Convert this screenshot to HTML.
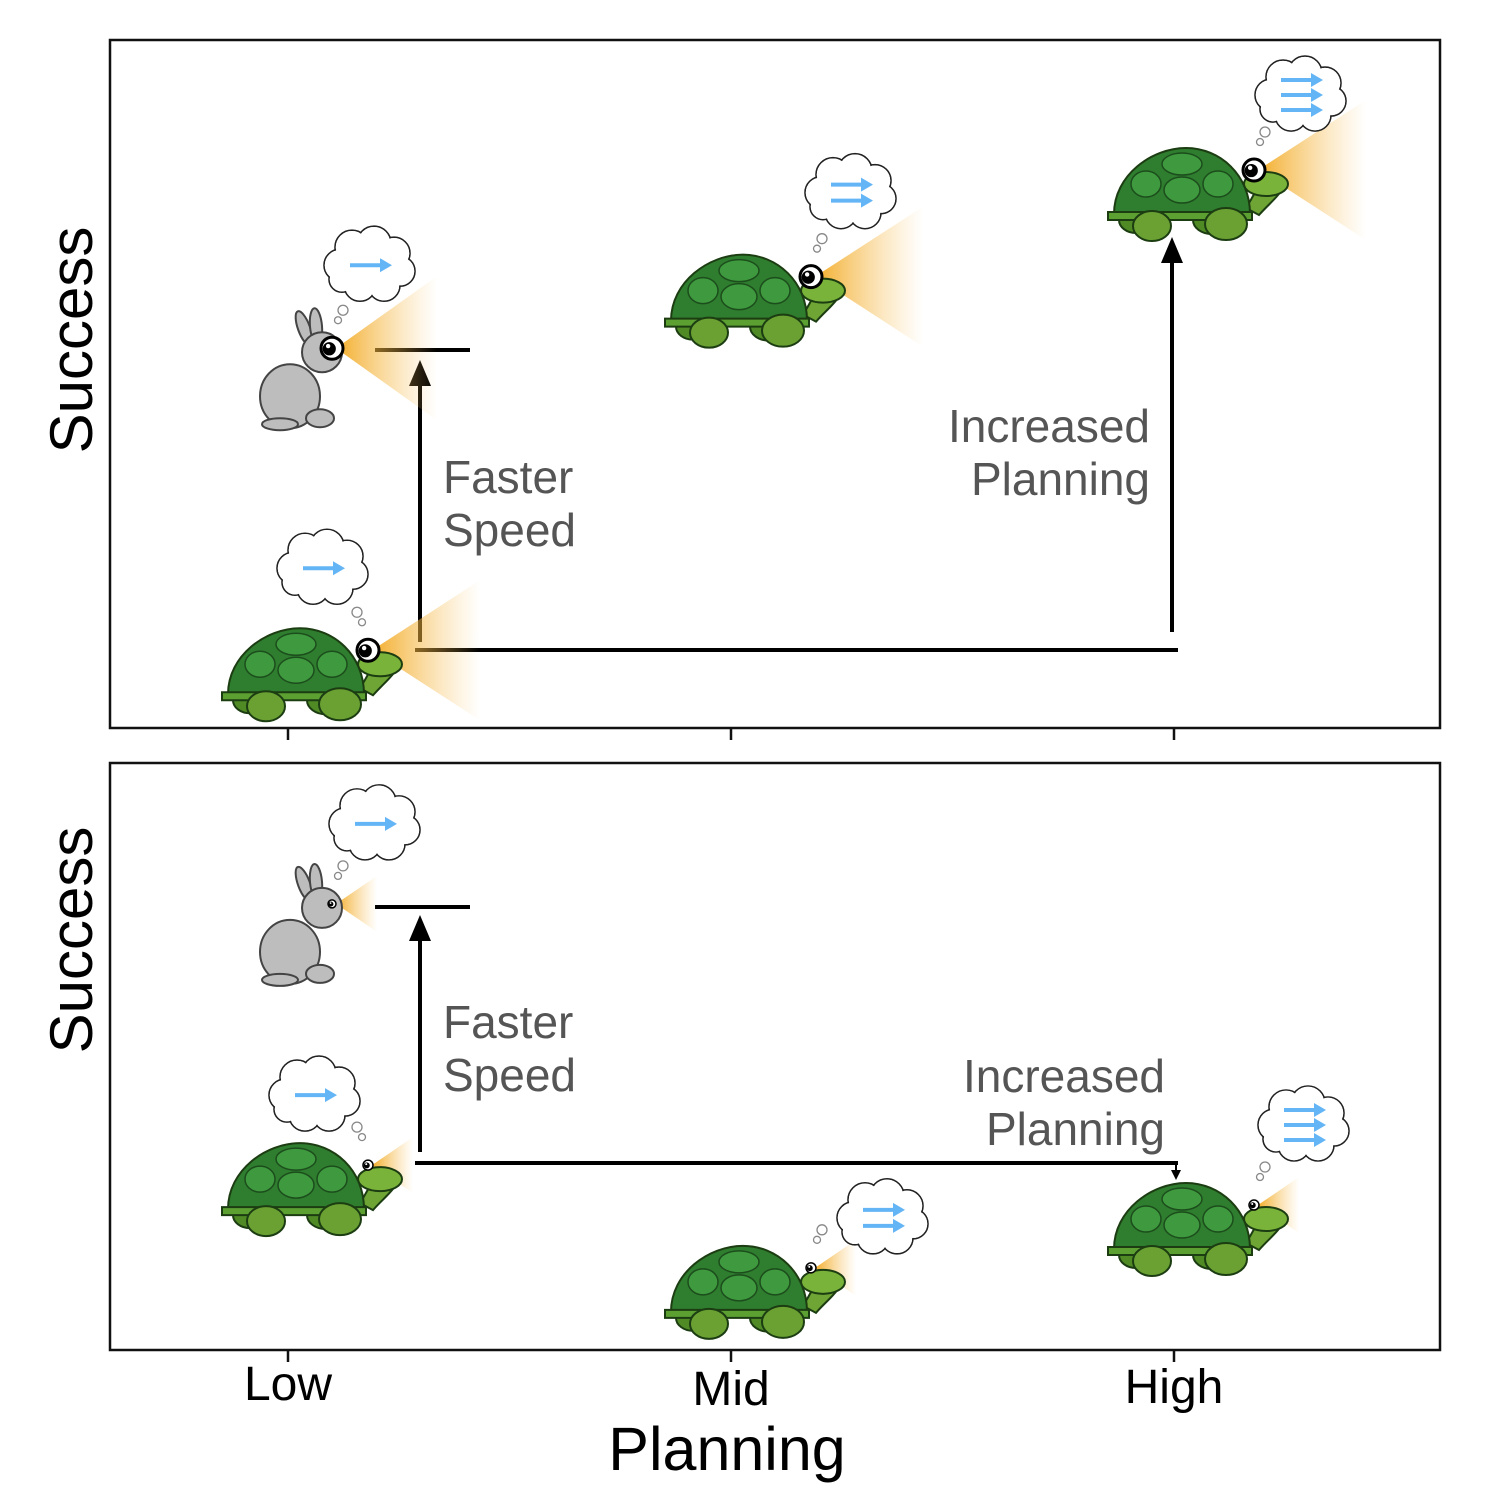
<!DOCTYPE html>
<html><head><meta charset="utf-8">
<style>
html,body{margin:0;padding:0;background:#fff;}
svg{display:block;font-family:"Liberation Sans",sans-serif;}
</style></head>
<body>
<svg id="c" width="1508" height="1506" viewBox="0 0 1508 1506" xmlns="http://www.w3.org/2000/svg">
<defs>
<linearGradient id="cone" x1="0" y1="0" x2="1" y2="0">
<stop offset="0" stop-color="#f2a81d" stop-opacity="0.95"/>
<stop offset="1" stop-color="#f8c66a" stop-opacity="0"/>
</linearGradient>
</defs>
</svg>
<script>
const categories = ['Low','Mid','High'];
// top panel: [animal, category index, success]
const topAnimals = ['turtle','rabbit','turtle','turtle'];
const topCats = [0,0,1,2];
const topSuccess = [1.13,5.52,6.56,8.11];
const topThoughts = [1,1,2,3];
const botAnimals = ['rabbit','turtle','turtle','turtle'];
const botCats = [0,0,1,2];
const botSuccess = [7.6,3.15,1.4,2.47];
const botThoughts = [1,1,2,3];

const NS='http://www.w3.org/2000/svg';
const svg=document.getElementById('c');
function mk(tag,attrs,parent){const e=document.createElementNS(NS,tag);for(const k in attrs)e.setAttribute(k,attrs[k]);(parent||svg).appendChild(e);return e;}
const xScale=i=>288+i*443;
const panels=[{top:40,bottom:728},{top:763,bottom:1350}];
const yTop=v=>728-v*68.8;
const yBot=v=>1350-v*58.7;

panels.forEach((p,pi)=>{
  const r=mk('rect',{x:110,y:p.top,width:1330,height:p.bottom-p.top,fill:'none',stroke:'#111','stroke-width':2.5});
  
  
  categories.forEach((c,i)=>{
    const t=mk('line',{x1:xScale(i),x2:xScale(i),y1:p.bottom,y2:p.bottom+12,stroke:'#111','stroke-width':2.5});
    
    
  });
  const yl=mk('text',{x:0,y:0,'font-size':60,'text-anchor':'middle',fill:'#000',transform:`translate(92,${pi?940:340}) rotate(-90)`});
  yl.textContent='Success';
  
  
});
const tickY=[1400,1405,1403];
categories.forEach((c,i)=>{
  const t=mk('text',{x:xScale(i),y:tickY[i],'font-size':48,'text-anchor':'middle',fill:'#000'});
  t.textContent=c;
  
  
});
const xt=mk('text',{x:727,y:1470,'font-size':61,'text-anchor':'middle',fill:'#000'});
xt.textContent='Planning';



function line(x1,y1,x2,y2,name,w){const l=mk('line',{x1,y1,x2,y2,stroke:'#000','stroke-width':w||4});return l;}
function head(x,y,dir,s,name){s=s||1;const d=dir<0?`M${x},${y} L${x-11*s},${y+26*s} L${x+11*s},${y+26*s}Z`:`M${x},${y} L${x-5},${y-10} L${x+5},${y-10}Z`;const p=mk('path',{d,fill:'#000'});}
function label(x,y,lines,anchor,name){const t=mk('text',{x,y,'font-size':46,fill:'#555','text-anchor':anchor});lines.forEach((s,i)=>{const ts=mk('tspan',{x,dy:i?53:0},t);ts.textContent=s;});}

line(420,642,420,385,'speed-arrow'); head(420,360,-1,1,'speed-arrow-head');
line(375,350,470,350,'rabbit-level-bar');
line(415,650,1178,650,'baseline-line');
line(1172,632,1172,262,'planning-arrow'); head(1172,237,-1,1,'planning-arrow-head');
label(443,493,['Faster','Speed'],'start','faster-speed-label');
label(1150,442,['Increased','Planning'],'end','increased-planning-label');
line(420,1152,420,940,'speed-arrow'); head(420,915,-1,1,'speed-arrow-head');
line(375,907,470,907,'rabbit-level-bar');
line(415,1163,1178,1163,'baseline-line');
line(1176,1163,1176,1172,'planning-arrow',2); head(1176,1180,1,1,'planning-arrow-head');
label(443,1038,['Faster','Speed'],'start','faster-speed-label');
label(1165,1092,['Increased','Planning'],'end','increased-planning-label');

function cone(g,L,h){mk('path',{d:`M4,0 L${L},${-h} L${L},${h}Z`,fill:'url(#cone)'},g);}
function eye(g,r){mk('circle',{cx:0,cy:0,r:r,fill:'#fff',stroke:'#000','stroke-width':r>6?3:1.5},g);mk('circle',{cx:-r*0.25,cy:r*0.05,r:r*0.6,fill:'#000'},g);mk('circle',{cx:-r*0.35,cy:-r*0.2,r:r*0.2,fill:'#fff'},g);}
function turtle(g,big){
  const st={stroke:'#1c3d12','stroke-width':2};
  mk('ellipse',Object.assign({cx:-118,cy:50,rx:17,ry:13,fill:'#4f8a25'},st),g);
  mk('ellipse',Object.assign({cx:-42,cy:50,rx:19,ry:14,fill:'#4f8a25'},st),g);
  mk('path',Object.assign({d:'M-8,38 C0,25 5,15 8,8 L30,8 C32,22 18,30 5,45 Z',fill:'#6fa535'},st),g);
  mk('ellipse',Object.assign({cx:12,cy:14,rx:22,ry:12,fill:'#7ab33a'},st),g);
  mk('path',Object.assign({d:'M-140,44 C-140,5 -102,-22 -68,-22 C-34,-22 -4,5 -4,44 Z',fill:'#2f7d2f'},st),g);
  mk('ellipse',{cx:-72,cy:-6,rx:20,ry:11,fill:'#3f9a3f',stroke:'#1c4d1c','stroke-width':1.5},g);
  mk('ellipse',{cx:-108,cy:14,rx:15,ry:13,fill:'#3f9a3f',stroke:'#1c4d1c','stroke-width':1.5},g);
  mk('ellipse',{cx:-36,cy:14,rx:15,ry:13,fill:'#3f9a3f',stroke:'#1c4d1c','stroke-width':1.5},g);
  mk('ellipse',{cx:-72,cy:20,rx:18,ry:13,fill:'#3f9a3f',stroke:'#1c4d1c','stroke-width':1.5},g);
  mk('path',Object.assign({d:'M-146,42 L-2,42 L-2,50 L-146,50 Z',fill:'#5da032'},st),g);
  mk('ellipse',Object.assign({cx:-102,cy:56,rx:19,ry:15,fill:'#6aa132'},st),g);
  mk('ellipse',Object.assign({cx:-28,cy:54,rx:21,ry:16,fill:'#6aa132'},st),g);
  eye(g,big?11:5);
}
function rabbit(g,big){
  const st={stroke:'#444','stroke-width':2,fill:'#bdbdbd'};
  mk('ellipse',Object.assign({cx:-28,cy:-20,rx:6,ry:18,transform:'rotate(-20 -28 -20)'},st),g);
  mk('ellipse',Object.assign({cx:-16,cy:-22,rx:6,ry:18,transform:'rotate(-5 -16 -22)'},st),g);
  mk('ellipse',Object.assign({cx:-42,cy:48,rx:30,ry:32},st),g);
  mk('ellipse',Object.assign({cx:-12,cy:70,rx:14,ry:9},st),g);
  mk('ellipse',Object.assign({cx:-52,cy:76,rx:18,ry:6},st),g);
  mk('circle',Object.assign({cx:-10,cy:4,r:20},st),g);
  eye(g,big?11:4);
}
function cloud(g,cx,cy,n){
  const cs=[[-30,0,16],[-18,-18,17],[4,-22,17],[24,-12,16],[30,6,15],[14,20,16],[-10,20,16],[-28,14,13]];
  const cg=mk('g',{},g);
  cs.forEach(c=>mk('circle',{cx:cx+c[0],cy:cy+c[1],r:c[2],fill:'none',stroke:'#222','stroke-width':1.6},cg));
  cs.forEach(c=>mk('circle',{cx:cx+c[0],cy:cy+c[1],r:c[2]-0.8,fill:'#fff'},cg));
  mk('ellipse',{cx:cx,cy:cy,rx:30,ry:18,fill:'#fff'},cg);
  const off=n===1?[0]:n===2?[-8,8]:[-15,0,15];
  off.forEach(o=>{const y=cy+o;mk('line',{x1:cx-20,y1:y,x2:cx+12,y2:y,stroke:'#64b5f6','stroke-width':4},cg);mk('path',{d:`M${cx+22},${y} L${cx+10},${y-7} L${cx+10},${y+7}Z`,fill:'#64b5f6'},cg);});
}
const bubbleOff={top:[[-45,-82],[38,-83],[40,-84],[47,-75]],bot:[[43,-80],[-53,-70],[72,-50],[50,-80]]};
const xOff={turtle:80,rabbit:44};
function draw(animals,cats,succ,thoughts,ys,big,key){
  animals.forEach((a,i)=>{
    const ex=xScale(cats[i])+xOff[a], ey=ys(succ[i]);
    const g=mk('g',{transform:`translate(${ex},${ey})`});
    
    
    if(big) cone(g,a==='rabbit'?105:112,a==='rabbit'?72:70); else cone(g,45,28);
    if(a==='turtle') turtle(g,big); else rabbit(g,big);
    const [bx,by]=bubbleOff[key][i];
    const sgn=bx<0?-1:1;
    mk('circle',{cx:sgn*6,cy:-28,r:3.5,fill:'#fff',stroke:'#888','stroke-width':1.3},g);
    mk('circle',{cx:sgn*11,cy:-38,r:5,fill:'#fff',stroke:'#888','stroke-width':1.3},g);
    cloud(g,bx,by,thoughts[i]);
  });
}
draw(topAnimals,topCats,topSuccess,topThoughts,yTop,true,'top');
draw(botAnimals,botCats,botSuccess,botThoughts,yBot,false,'bot');
</script>
</body></html>
